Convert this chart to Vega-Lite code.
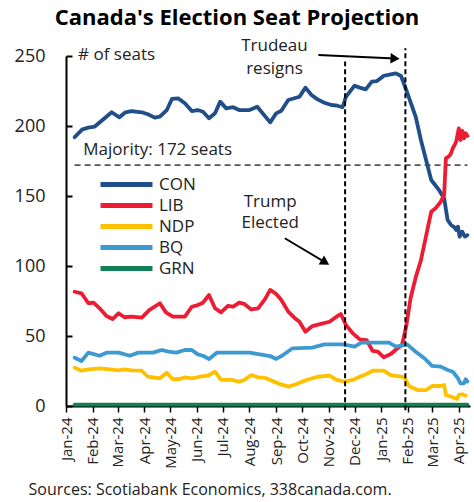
{
  "$schema": "https://vega.github.io/schema/vega-lite/v6.json",
  "width": 404,
  "height": 350,
  "autosize": {"type": "none"},
  "padding": {"left": 66, "top": 56, "right": 4, "bottom": 96},
  "background": "white",
  "title": {"text": "Canada's Election Seat Projection", "fontSize": 22, "font": "Open Sans", "fontWeight": "bold", "color": "black", "anchor": "middle", "frame": "group", "dx": -31, "offset": 7},
  "config": {"view": {"stroke": null}, "font": "Open Sans", "axis": {"grid": false}},
  "datasets": {
    "seats": [
      {"party": "CON", "date": "2024-01-11", "seats": 192},
      {"party": "CON", "date": "2024-01-20", "seats": 197.6},
      {"party": "CON", "date": "2024-01-27", "seats": 198.8},
      {"party": "CON", "date": "2024-02-03", "seats": 199.5},
      {"party": "CON", "date": "2024-02-11", "seats": 203.6},
      {"party": "CON", "date": "2024-02-23", "seats": 209.8},
      {"party": "CON", "date": "2024-03-03", "seats": 206.2},
      {"party": "CON", "date": "2024-03-10", "seats": 209.8},
      {"party": "CON", "date": "2024-03-17", "seats": 210.7},
      {"party": "CON", "date": "2024-03-29", "seats": 209.8},
      {"party": "CON", "date": "2024-04-05", "seats": 208.4},
      {"party": "CON", "date": "2024-04-13", "seats": 206},
      {"party": "CON", "date": "2024-04-19", "seats": 206.7},
      {"party": "CON", "date": "2024-04-27", "seats": 211.4},
      {"party": "CON", "date": "2024-05-03", "seats": 219.3},
      {"party": "CON", "date": "2024-05-10", "seats": 219.8},
      {"party": "CON", "date": "2024-05-18", "seats": 216.2},
      {"party": "CON", "date": "2024-05-26", "seats": 210.7},
      {"party": "CON", "date": "2024-06-02", "seats": 211.4},
      {"party": "CON", "date": "2024-06-08", "seats": 210.2},
      {"party": "CON", "date": "2024-06-15", "seats": 205.5},
      {"party": "CON", "date": "2024-06-22", "seats": 209.1},
      {"party": "CON", "date": "2024-06-28", "seats": 217.4},
      {"party": "CON", "date": "2024-07-05", "seats": 212.6},
      {"party": "CON", "date": "2024-07-13", "seats": 213.4},
      {"party": "CON", "date": "2024-07-20", "seats": 211.4},
      {"party": "CON", "date": "2024-08-01", "seats": 211.4},
      {"party": "CON", "date": "2024-08-10", "seats": 213.8},
      {"party": "CON", "date": "2024-08-25", "seats": 202.6},
      {"party": "CON", "date": "2024-09-01", "seats": 209},
      {"party": "CON", "date": "2024-09-07", "seats": 210.9},
      {"party": "CON", "date": "2024-09-15", "seats": 218.6},
      {"party": "CON", "date": "2024-09-22", "seats": 219.8},
      {"party": "CON", "date": "2024-09-28", "seats": 220.9},
      {"party": "CON", "date": "2024-10-05", "seats": 227.4},
      {"party": "CON", "date": "2024-10-12", "seats": 222.1},
      {"party": "CON", "date": "2024-10-19", "seats": 219},
      {"party": "CON", "date": "2024-10-27", "seats": 216.6},
      {"party": "CON", "date": "2024-11-04", "seats": 215},
      {"party": "CON", "date": "2024-11-11", "seats": 214.5},
      {"party": "CON", "date": "2024-11-17", "seats": 213.4},
      {"party": "CON", "date": "2024-11-21", "seats": 220.9},
      {"party": "CON", "date": "2024-12-01", "seats": 228.8},
      {"party": "CON", "date": "2024-12-07", "seats": 227.4},
      {"party": "CON", "date": "2024-12-14", "seats": 226.2},
      {"party": "CON", "date": "2024-12-21", "seats": 231.7},
      {"party": "CON", "date": "2024-12-27", "seats": 232.1},
      {"party": "CON", "date": "2025-01-04", "seats": 235.9},
      {"party": "CON", "date": "2025-01-12", "seats": 236.9},
      {"party": "CON", "date": "2025-01-18", "seats": 237.6},
      {"party": "CON", "date": "2025-01-24", "seats": 235.7},
      {"party": "CON", "date": "2025-01-30", "seats": 225.7},
      {"party": "CON", "date": "2025-02-10", "seats": 206.6},
      {"party": "CON", "date": "2025-02-16", "seats": 190},
      {"party": "CON", "date": "2025-02-28", "seats": 161.4},
      {"party": "CON", "date": "2025-03-09", "seats": 154.3},
      {"party": "CON", "date": "2025-03-15", "seats": 148.3},
      {"party": "CON", "date": "2025-03-19", "seats": 132.9},
      {"party": "CON", "date": "2025-03-23", "seats": 129.3},
      {"party": "CON", "date": "2025-03-27", "seats": 127.6},
      {"party": "CON", "date": "2025-03-29", "seats": 125.7},
      {"party": "CON", "date": "2025-03-31", "seats": 128.1},
      {"party": "CON", "date": "2025-04-02", "seats": 121},
      {"party": "CON", "date": "2025-04-05", "seats": 124.5},
      {"party": "CON", "date": "2025-04-08", "seats": 121},
      {"party": "CON", "date": "2025-04-11", "seats": 122},
      {"party": "LIB", "date": "2024-01-11", "seats": 81.6},
      {"party": "LIB", "date": "2024-01-19", "seats": 80.5},
      {"party": "LIB", "date": "2024-01-27", "seats": 73.4},
      {"party": "LIB", "date": "2024-02-02", "seats": 73.8},
      {"party": "LIB", "date": "2024-02-09", "seats": 69.8},
      {"party": "LIB", "date": "2024-02-17", "seats": 64.3},
      {"party": "LIB", "date": "2024-02-24", "seats": 62.1},
      {"party": "LIB", "date": "2024-03-02", "seats": 66.2},
      {"party": "LIB", "date": "2024-03-09", "seats": 63.4},
      {"party": "LIB", "date": "2024-03-17", "seats": 63.8},
      {"party": "LIB", "date": "2024-03-29", "seats": 63.1},
      {"party": "LIB", "date": "2024-04-07", "seats": 68.6},
      {"party": "LIB", "date": "2024-04-19", "seats": 73.4},
      {"party": "LIB", "date": "2024-04-26", "seats": 66.9},
      {"party": "LIB", "date": "2024-05-04", "seats": 63.8},
      {"party": "LIB", "date": "2024-05-18", "seats": 63.8},
      {"party": "LIB", "date": "2024-05-26", "seats": 70.9},
      {"party": "LIB", "date": "2024-06-02", "seats": 72.1},
      {"party": "LIB", "date": "2024-06-08", "seats": 73.8},
      {"party": "LIB", "date": "2024-06-15", "seats": 79.3},
      {"party": "LIB", "date": "2024-06-22", "seats": 69.8},
      {"party": "LIB", "date": "2024-06-29", "seats": 66.9},
      {"party": "LIB", "date": "2024-07-07", "seats": 71.6},
      {"party": "LIB", "date": "2024-07-13", "seats": 70.9},
      {"party": "LIB", "date": "2024-07-20", "seats": 73.8},
      {"party": "LIB", "date": "2024-07-26", "seats": 72.9},
      {"party": "LIB", "date": "2024-08-03", "seats": 69},
      {"party": "LIB", "date": "2024-08-11", "seats": 69.8},
      {"party": "LIB", "date": "2024-08-19", "seats": 76.3},
      {"party": "LIB", "date": "2024-08-25", "seats": 82.9},
      {"party": "LIB", "date": "2024-09-01", "seats": 80},
      {"party": "LIB", "date": "2024-09-07", "seats": 75.7},
      {"party": "LIB", "date": "2024-09-15", "seats": 67.4},
      {"party": "LIB", "date": "2024-09-22", "seats": 63.1},
      {"party": "LIB", "date": "2024-09-28", "seats": 60.2},
      {"party": "LIB", "date": "2024-10-05", "seats": 53.1},
      {"party": "LIB", "date": "2024-10-13", "seats": 57.1},
      {"party": "LIB", "date": "2024-10-23", "seats": 58.6},
      {"party": "LIB", "date": "2024-11-02", "seats": 60.2},
      {"party": "LIB", "date": "2024-11-10", "seats": 63.8},
      {"party": "LIB", "date": "2024-11-15", "seats": 65.7},
      {"party": "LIB", "date": "2024-11-21", "seats": 57.9},
      {"party": "LIB", "date": "2024-11-29", "seats": 51.9},
      {"party": "LIB", "date": "2024-12-07", "seats": 47.6},
      {"party": "LIB", "date": "2024-12-15", "seats": 47.1},
      {"party": "LIB", "date": "2024-12-22", "seats": 39.3},
      {"party": "LIB", "date": "2024-12-28", "seats": 38.8},
      {"party": "LIB", "date": "2025-01-04", "seats": 34.8},
      {"party": "LIB", "date": "2025-01-12", "seats": 37.1},
      {"party": "LIB", "date": "2025-01-20", "seats": 41.2},
      {"party": "LIB", "date": "2025-01-25", "seats": 43.6},
      {"party": "LIB", "date": "2025-01-30", "seats": 57},
      {"party": "LIB", "date": "2025-02-04", "seats": 77},
      {"party": "LIB", "date": "2025-02-10", "seats": 92},
      {"party": "LIB", "date": "2025-02-16", "seats": 104},
      {"party": "LIB", "date": "2025-02-28", "seats": 138.8},
      {"party": "LIB", "date": "2025-03-05", "seats": 141.2},
      {"party": "LIB", "date": "2025-03-11", "seats": 145.9},
      {"party": "LIB", "date": "2025-03-15", "seats": 150.7},
      {"party": "LIB", "date": "2025-03-17", "seats": 176.9},
      {"party": "LIB", "date": "2025-03-21", "seats": 178.6},
      {"party": "LIB", "date": "2025-03-23", "seats": 180.5},
      {"party": "LIB", "date": "2025-03-25", "seats": 184.1},
      {"party": "LIB", "date": "2025-03-27", "seats": 186.4},
      {"party": "LIB", "date": "2025-03-29", "seats": 188.8},
      {"party": "LIB", "date": "2025-04-01", "seats": 198.3},
      {"party": "LIB", "date": "2025-04-03", "seats": 190},
      {"party": "LIB", "date": "2025-04-05", "seats": 196.6},
      {"party": "LIB", "date": "2025-04-07", "seats": 191.2},
      {"party": "LIB", "date": "2025-04-09", "seats": 194.8},
      {"party": "LIB", "date": "2025-04-11", "seats": 192.9},
      {"party": "NDP", "date": "2024-01-11", "seats": 27.4},
      {"party": "NDP", "date": "2024-01-19", "seats": 25.2},
      {"party": "NDP", "date": "2024-01-27", "seats": 26.2},
      {"party": "NDP", "date": "2024-02-09", "seats": 26.9},
      {"party": "NDP", "date": "2024-02-21", "seats": 26.2},
      {"party": "NDP", "date": "2024-03-02", "seats": 25.5},
      {"party": "NDP", "date": "2024-03-09", "seats": 26.2},
      {"party": "NDP", "date": "2024-03-17", "seats": 25.5},
      {"party": "NDP", "date": "2024-03-29", "seats": 25.2},
      {"party": "NDP", "date": "2024-04-05", "seats": 20.9},
      {"party": "NDP", "date": "2024-04-19", "seats": 19.8},
      {"party": "NDP", "date": "2024-04-27", "seats": 23.8},
      {"party": "NDP", "date": "2024-05-04", "seats": 19.1},
      {"party": "NDP", "date": "2024-05-12", "seats": 19.3},
      {"party": "NDP", "date": "2024-05-18", "seats": 20.5},
      {"party": "NDP", "date": "2024-05-26", "seats": 19.8},
      {"party": "NDP", "date": "2024-06-04", "seats": 20.9},
      {"party": "NDP", "date": "2024-06-14", "seats": 21.7},
      {"party": "NDP", "date": "2024-06-22", "seats": 24.5},
      {"party": "NDP", "date": "2024-06-29", "seats": 18.6},
      {"party": "NDP", "date": "2024-07-11", "seats": 18.6},
      {"party": "NDP", "date": "2024-07-20", "seats": 17.4},
      {"party": "NDP", "date": "2024-07-26", "seats": 18.6},
      {"party": "NDP", "date": "2024-08-03", "seats": 22.1},
      {"party": "NDP", "date": "2024-08-11", "seats": 20.5},
      {"party": "NDP", "date": "2024-08-19", "seats": 20.2},
      {"party": "NDP", "date": "2024-08-25", "seats": 18.6},
      {"party": "NDP", "date": "2024-09-03", "seats": 16.2},
      {"party": "NDP", "date": "2024-09-15", "seats": 13.8},
      {"party": "NDP", "date": "2024-09-24", "seats": 15.5},
      {"party": "NDP", "date": "2024-10-06", "seats": 18.6},
      {"party": "NDP", "date": "2024-10-19", "seats": 20.9},
      {"party": "NDP", "date": "2024-11-02", "seats": 21.7},
      {"party": "NDP", "date": "2024-11-10", "seats": 18.6},
      {"party": "NDP", "date": "2024-11-19", "seats": 17.4},
      {"party": "NDP", "date": "2024-11-29", "seats": 18.6},
      {"party": "NDP", "date": "2024-12-07", "seats": 20.9},
      {"party": "NDP", "date": "2024-12-15", "seats": 22.9},
      {"party": "NDP", "date": "2024-12-22", "seats": 25.2},
      {"party": "NDP", "date": "2025-01-04", "seats": 25.2},
      {"party": "NDP", "date": "2025-01-12", "seats": 22.1},
      {"party": "NDP", "date": "2025-01-24", "seats": 20.9},
      {"party": "NDP", "date": "2025-01-28", "seats": 20.5},
      {"party": "NDP", "date": "2025-02-02", "seats": 14.3},
      {"party": "NDP", "date": "2025-02-12", "seats": 11.4},
      {"party": "NDP", "date": "2025-02-22", "seats": 11.4},
      {"party": "NDP", "date": "2025-03-01", "seats": 14.3},
      {"party": "NDP", "date": "2025-03-11", "seats": 14.3},
      {"party": "NDP", "date": "2025-03-15", "seats": 15},
      {"party": "NDP", "date": "2025-03-17", "seats": 7.9},
      {"party": "NDP", "date": "2025-03-25", "seats": 6.2},
      {"party": "NDP", "date": "2025-03-30", "seats": 5},
      {"party": "NDP", "date": "2025-04-01", "seats": 7.9},
      {"party": "NDP", "date": "2025-04-05", "seats": 8.4},
      {"party": "NDP", "date": "2025-04-09", "seats": 7.4},
      {"party": "BQ", "date": "2024-01-11", "seats": 34.5},
      {"party": "BQ", "date": "2024-01-19", "seats": 32.1},
      {"party": "BQ", "date": "2024-01-27", "seats": 38.1},
      {"party": "BQ", "date": "2024-02-09", "seats": 35.9},
      {"party": "BQ", "date": "2024-02-17", "seats": 38.1},
      {"party": "BQ", "date": "2024-03-02", "seats": 38.1},
      {"party": "BQ", "date": "2024-03-15", "seats": 35.9},
      {"party": "BQ", "date": "2024-03-25", "seats": 38.1},
      {"party": "BQ", "date": "2024-04-11", "seats": 38.1},
      {"party": "BQ", "date": "2024-04-21", "seats": 40},
      {"party": "BQ", "date": "2024-04-29", "seats": 38.8},
      {"party": "BQ", "date": "2024-05-08", "seats": 38.1},
      {"party": "BQ", "date": "2024-05-18", "seats": 40},
      {"party": "BQ", "date": "2024-05-26", "seats": 40},
      {"party": "BQ", "date": "2024-06-02", "seats": 36.9},
      {"party": "BQ", "date": "2024-06-08", "seats": 35.9},
      {"party": "BQ", "date": "2024-06-15", "seats": 33.6},
      {"party": "BQ", "date": "2024-06-24", "seats": 38.1},
      {"party": "BQ", "date": "2024-08-01", "seats": 38.1},
      {"party": "BQ", "date": "2024-08-13", "seats": 36.9},
      {"party": "BQ", "date": "2024-08-25", "seats": 35.7},
      {"party": "BQ", "date": "2024-09-01", "seats": 33.6},
      {"party": "BQ", "date": "2024-09-09", "seats": 36.4},
      {"party": "BQ", "date": "2024-09-20", "seats": 41.2},
      {"party": "BQ", "date": "2024-10-13", "seats": 41.7},
      {"party": "BQ", "date": "2024-10-27", "seats": 44},
      {"party": "BQ", "date": "2024-11-17", "seats": 44},
      {"party": "BQ", "date": "2024-11-25", "seats": 43.1},
      {"party": "BQ", "date": "2024-12-01", "seats": 42.4},
      {"party": "BQ", "date": "2024-12-09", "seats": 45.2},
      {"party": "BQ", "date": "2025-01-10", "seats": 45.2},
      {"party": "BQ", "date": "2025-01-18", "seats": 42.4},
      {"party": "BQ", "date": "2025-01-24", "seats": 43.1},
      {"party": "BQ", "date": "2025-01-31", "seats": 44},
      {"party": "BQ", "date": "2025-02-10", "seats": 38.8},
      {"party": "BQ", "date": "2025-02-20", "seats": 34.1},
      {"party": "BQ", "date": "2025-03-01", "seats": 28.6},
      {"party": "BQ", "date": "2025-03-11", "seats": 28.1},
      {"party": "BQ", "date": "2025-03-19", "seats": 25.7},
      {"party": "BQ", "date": "2025-03-25", "seats": 24.5},
      {"party": "BQ", "date": "2025-03-31", "seats": 19.8},
      {"party": "BQ", "date": "2025-04-03", "seats": 16.2},
      {"party": "BQ", "date": "2025-04-07", "seats": 16.2},
      {"party": "BQ", "date": "2025-04-09", "seats": 19.1},
      {"party": "BQ", "date": "2025-04-11", "seats": 17.5},
      {"party": "GRN", "date": "2024-01-11", "seats": 1},
      {"party": "GRN", "date": "2024-04-11", "seats": 1},
      {"party": "GRN", "date": "2024-07-11", "seats": 1},
      {"party": "GRN", "date": "2024-10-11", "seats": 1},
      {"party": "GRN", "date": "2025-01-11", "seats": 1},
      {"party": "GRN", "date": "2025-04-11", "seats": 1}
    ],
    "majority": [{"date": "2024-01-11", "date_end": "2025-04-11", "seats": 172}],
    "events": [
      {"event": "Trump elected", "date": "2024-11-20", "seats": -3, "seats_end": 246},
      {"event": "Trudeau resigns", "date": "2025-01-29", "seats": -3, "seats_end": 255.5}
    ],
    "arrows": [
      {"event": "Trudeau resigns", "date": "2024-10-20", "seats": 250.7, "date_end": "2025-01-17", "seats_end": 248.2},
      {"event": "Trump elected", "date": "2024-09-11", "seats": 119.8, "date_end": "2024-10-28", "seats_end": 102.6}
    ],
    "head_trudeau": [{"date": "2025-01-17", "seats": 248.2}],
    "head_trump": [{"date": "2024-10-28", "seats": 102.6}],
    "notes_left": [
      {"date": "2024-01-15", "seats": 250.4, "label": "# of seats"},
      {"date": "2024-01-21", "seats": 183, "label": "Majority: 172 seats"}
    ],
    "notes_center": [
      {"date": "2024-08-30", "seats": 257, "label": "Trudeau"},
      {"date": "2024-08-30", "seats": 240.5, "label": "resigns"},
      {"date": "2024-08-25", "seats": 146, "label": "Trump"},
      {"date": "2024-08-25", "seats": 130.5, "label": "Elected"}
    ]
  },
  "encoding": {
    "x": {
      "field": "date", "type": "temporal",
      "scale": {"type": "utc", "domain": [{"year": 2024, "month": 1, "date": 1, "utc": true}, {"year": 2025, "month": 4, "date": 14, "utc": true}]},
      "title": "Sources: Scotiabank Economics, 338canada.com.",
      "axis": {
        "format": "%b-%y", "tickCount": {"interval": "month", "step": 1},
        "labelAngle": -90, "labelAlign": "right", "labelBaseline": "middle",
        "labelFontSize": 15, "labelColor": "#222", "labelFont": "Open Sans", "labelPadding": 5, "labelOverlap": false,
        "domainColor": "black", "domainWidth": 2, "tickColor": "black", "tickWidth": 1.5, "tickSize": 6,
        "titleFontSize": 16, "titleFontWeight": "normal", "titleColor": "#222", "titleFont": "Open Sans",
        "titleAlign": "left", "titleBaseline": "middle", "titleX": -38, "titleY": 83
      }
    },
    "y": {
      "field": "seats", "type": "quantitative",
      "scale": {"domain": [0, 250], "nice": false},
      "title": null,
      "axis": {
        "values": [0, 50, 100, 150, 200, 250],
        "labelFontSize": 18, "labelColor": "#222", "labelFont": "Open Sans",
        "domainColor": "black", "domainWidth": 2, "tickColor": "black", "tickWidth": 2, "tickSize": -6, "labelPadding": 27
      }
    }
  },
  "layer": [
    {
      "data": {"name": "majority"},
      "mark": {"type": "rule", "strokeDash": [6, 4], "color": "#555", "strokeWidth": 1.8},
      "encoding": {"x2": {"field": "date_end"}}
    },
    {
      "data": {"name": "seats"},
      "mark": {"type": "line", "strokeWidth": 3.8, "strokeCap": "round", "strokeJoin": "round"},
      "encoding": {
        "color": {
          "field": "party", "type": "nominal",
          "scale": {"domain": ["CON", "LIB", "NDP", "BQ", "GRN"], "range": ["#1F4E89", "#EC1D33", "#FFC000", "#3D9AD1", "#108056"]},
          "legend": {
            "orient": "none", "legendX": 32, "legendY": 118, "title": null, "padding": 0,
            "symbolType": "stroke", "symbolSize": 2700, "symbolStrokeWidth": 5,
            "labelFontSize": 17, "labelColor": "#222", "labelFont": "Open Sans", "labelOffset": 4,
            "clipHeight": 21, "rowPadding": 0
          }
        }
      }
    },
    {
      "data": {"name": "events"},
      "mark": {"type": "rule", "strokeDash": [5, 3], "color": "black", "strokeWidth": 2},
      "encoding": {"y2": {"field": "seats_end"}}
    },
    {
      "data": {"name": "arrows"},
      "mark": {"type": "rule", "color": "black", "strokeWidth": 1.8},
      "encoding": {"x2": {"field": "date_end"}, "y2": {"field": "seats_end"}}
    },
    {
      "data": {"name": "head_trudeau"},
      "mark": {"type": "point", "shape": "triangle-right", "filled": true, "color": "black", "opacity": 1, "size": 110, "angle": 3}
    },
    {
      "data": {"name": "head_trump"},
      "mark": {"type": "point", "shape": "triangle-right", "filled": true, "color": "black", "opacity": 1, "size": 110, "angle": 31}
    },
    {
      "data": {"name": "notes_left"},
      "mark": {"type": "text", "align": "left", "baseline": "middle", "fontSize": 17, "color": "#222", "font": "Open Sans"},
      "encoding": {"text": {"field": "label"}}
    },
    {
      "data": {"name": "notes_center"},
      "mark": {"type": "text", "align": "center", "baseline": "middle", "fontSize": 17, "color": "#222", "font": "Open Sans"},
      "encoding": {"text": {"field": "label"}}
    }
  ]
}
